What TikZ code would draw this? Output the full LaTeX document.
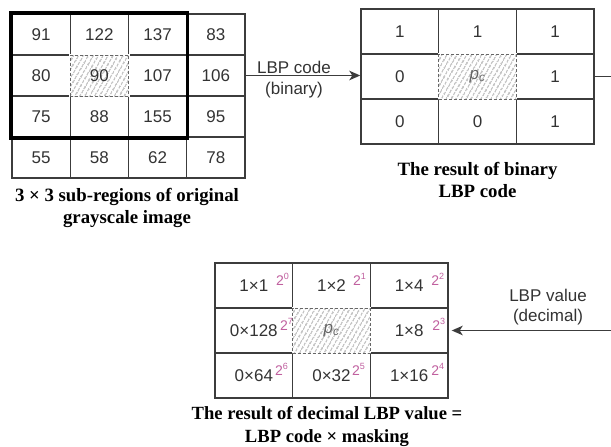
\documentclass[tikz,border=0pt]{standalone}
\usepackage{fontspec}
\setmainfont{Liberation Serif}
\setsansfont{Liberation Sans}
\usetikzlibrary{patterns.meta,arrows.meta,calc}
\definecolor{ink}{HTML}{333333}
\definecolor{gridc}{HTML}{3C3C3C}
\definecolor{supc}{HTML}{C0609F}
\definecolor{hatchc}{HTML}{A8A8A8}
\definecolor{dashc}{HTML}{666666}
\newcommand{\pcsym}{{\itshape\color{dashc}p\textsubscript{c}}}
\newcommand{\twopow}[1]{2\raisebox{5.5pt}{\fontsize{9}{9}\selectfont #1}}
\begin{document}
\begin{tikzpicture}[x=1pt,y=-1pt,
  cellfont/.style={font=\sffamily\fontsize{17}{20}\selectfont, text=ink},
  cellA/.style={cellfont, draw=gridc, line width=1.4pt, minimum width=58.25pt, minimum height=41pt, inner sep=0pt},
  cellB/.style={cellA, minimum width=77.67pt, minimum height=45pt},
  hatch/.style={fill=white, draw=white, line width=2pt,
     postaction={pattern={Lines[angle=60,distance=4pt,line width=1.1pt]}, pattern color=hatchc},
     postaction={draw=dashc, line width=1pt, dash pattern=on 3pt off 2pt}},
  supnode/.style={font=\sffamily\fontsize{14}{14}\selectfont, text=supc, inner sep=0pt, anchor=base west},
  caption/.style={font=\bfseries\fontsize{18.8}{22}\selectfont, align=center, text=black, inner sep=0pt},
  lbl/.style={font=\sffamily\fontsize{17}{21.5}\selectfont, align=center, text=ink, inner sep=0pt},
  conn/.style={draw=gridc, line width=1.4pt},
  tip/.style={-{Stealth[length=11pt,width=9.5pt,inset=3pt]}}
]
\useasboundingbox (0,0) rectangle (611,447);

% ---- left 4x4 grid ----
\foreach \r/\c/\v in {0/0/91,0/1/122,0/2/137,0/3/83,
                      1/0/80,1/2/107,1/3/106,
                      2/0/75,2/1/88,2/2/155,2/3/95,
                      3/0/55,3/1/58,3/2/62,3/3/78}
  \node[cellA] (l\r\c) at ({12+58.25*(\c+0.5)},{14+41*(\r+0.5)}) {\v};
\node[cellA,hatch] (l11) at ({12+58.25*1.5},{14+41*1.5}) {90};
\draw[black, line width=3.8pt] (l00.north west) rectangle (l22.south east);
\node[caption] (capL) at (127,207.5) {3 × 3 sub-regions of original\\grayscale image};

% ---- middle 3x3 grid (binary) ----
\foreach \r/\c/\v in {0/0/1,0/1/1,0/2/1,1/0/0,1/2/1,2/0/0,2/1/0,2/2/1}
  \node[cellB] (m\r\c) at ({361+77.67*(\c+0.5)},{9+45*(\r+0.5)}) {\v};
\node[cellB,hatch] (m11) at ({361+77.67*1.5},{9+45*1.5}) {\pcsym};
\node[caption] (capM) at (477.5,179.7) {The result of binary\\LBP code};

% ---- bottom 3x3 grid (decimal) ----
\foreach \r/\c/\v in {0/0/1×1,0/1/1×2,0/2/1×4,1/0/0×128,1/2/1×8,2/0/0×64,2/1/0×32,2/2/1×16}
  \node[cellB] (b\r\c) at ({215+77.67*(\c+0.5)},{263+45*(\r+0.5)}) {\v};
\node[cellB,hatch] (b11) at ({215+77.67*1.5},{263+45*1.5}) {\pcsym};
\foreach \r/\c/\e/\dx in {0/0/0/22,0/1/1/21.5,0/2/2/22,1/0/7/26,1/2/3/23,2/0/6/21,2/1/5/20.5,2/2/4/22}
  \node[supnode] (s\r\c) at ($(b\r\c.center)+(\dx,-0.5)$) {\twopow{\e}};
\node[caption,font=\bfseries\fontsize{18.6}{23.4}\selectfont] (capB) at (327,426.6) {The result of decimal LBP value =\\LBP code × masking};

% ---- connectors ----
\coordinate (rout) at (611,76.5);
\coordinate (rin) at (611,330.5);
\draw[conn,tip] (l13.east) -- (m10.west |- l13.east);
\node[lbl] (lab1) at (294,79.5) {LBP code\\(binary)};
\draw[conn] (m12.east) -- (rout);
\draw[conn,tip] (rin) -- ([xshift=3pt]b12.east);
\node[lbl,font=\sffamily\fontsize{17}{19.5}\selectfont] (lab2) at (548,307) {LBP value\\(decimal)};
\end{tikzpicture}
\end{document}
